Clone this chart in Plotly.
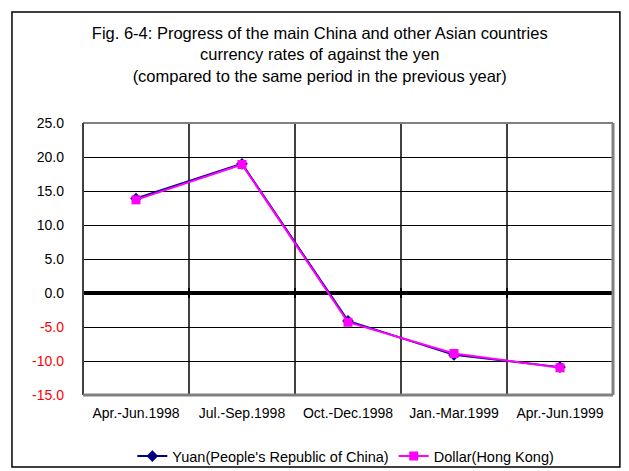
import plotly.graph_objects as go

# 데이터
periods = ["Apr.-Jun.1998", "Jul.-Sep.1998", "Oct.-Dec.1998", "Jan.-Mar.1999", "Apr.-Jun.1999"]
yuan = [13.9, 19.0, -4.1, -9.1, -10.9]
dollar = [13.7, 18.9, -4.3, -8.9, -11.0]
y_ticks = [-15, -10, -5, 0, 5, 10, 15, 20, 25]

x_pos = list(range(len(periods)))


def tick_label(v):
    s = f"{v:.1f}"
    if v < 0:
        return f"<span style='color:#ff0000'>{s}</span>"
    return s


fig = go.Figure()

fig.add_trace(go.Scatter(
    x=x_pos, y=yuan, mode="lines+markers",
    name="Yuan(People's Republic of China)",
    line=dict(color="#000080", width=2),
    marker=dict(symbol="diamond", size=9, color="#000080"),
))
fig.add_trace(go.Scatter(
    x=x_pos, y=dollar, mode="lines+markers",
    name="Dollar(Hong Kong)",
    line=dict(color="#ff00ff", width=2),
    marker=dict(symbol="square", size=9, color="#ff00ff"),
))

# 0 축 위의 눈금(카테고리 경계)
fig.add_trace(go.Scatter(
    x=[-0.5, 0.5, 1.5, 2.5, 3.5, 4.5], y=[0] * 6, mode="markers",
    marker=dict(symbol="line-ns", size=7, line=dict(width=2, color="black")),
    showlegend=False, hoverinfo="skip",
))

# 테두리 (페이지 body 여백 8px 고려)
fig.add_shape(type="rect", xref="paper", yref="paper",
              x0=-0.134, x1=1.013, y0=-0.265, y1=1.408,
              line=dict(color="black", width=1.5), layer="below")
fig.add_shape(type="line", xref="paper", yref="paper", x0=0, x1=1, y0=1, y1=1,
              line=dict(color="#808080", width=2))
fig.add_shape(type="line", xref="paper", yref="paper", x0=0, x1=0, y0=0, y1=1,
              line=dict(color="#404040", width=2))
fig.add_shape(type="line", xref="paper", yref="paper", x0=1, x1=1, y0=0, y1=1,
              line=dict(color="#808080", width=3))
fig.add_shape(type="line", xref="paper", yref="paper", x0=0, x1=1, y0=0, y1=0,
              line=dict(color="#808080", width=3))

fig.update_layout(
    width=621, height=463,
    margin=dict(l=75, r=16, t=115, b=76, autoexpand=False),
    paper_bgcolor="white", plot_bgcolor="white",
    font=dict(family="Liberation Sans, Arial, sans-serif", size=14, color="black"),
    title=dict(
        text="Fig. 6-4: Progress of the main China and other Asian countries<br>"
             "currency rates of against the yen<br>"
             "(compared to the same period in the previous year)",
        x=0.502, xref="container", xanchor="center",
        y=0.933, yref="container", yanchor="top",
        font=dict(size=16.5, color="black"),
    ),
    xaxis=dict(
        range=[-0.5, 4.5], tickvals=x_pos, ticktext=periods,
        showgrid=False, zeroline=False, showline=False, ticks="",
        ticklabelstandoff=8, tickfont=dict(size=14), automargin=False,
        minor=dict(tick0=-0.5, dtick=1, showgrid=True, gridcolor="#404040", gridwidth=1.5),
    ),
    yaxis=dict(
        range=[-15, 25], tickvals=y_ticks, ticktext=[tick_label(v) for v in y_ticks],
        showgrid=True, gridcolor="black", gridwidth=1,
        zeroline=True, zerolinecolor="black", zerolinewidth=4,
        showline=False, ticks="", ticklabelstandoff=18, tickfont=dict(size=14),
        automargin=False,
    ),
    legend=dict(
        orientation="h", x=0.544, xanchor="center", xref="container",
        y=0.032, yanchor="middle", yref="container",
        font=dict(size=14.5), itemwidth=30, bgcolor="rgba(0,0,0,0)",
    ),
    showlegend=True,
)

fig.write_html("out.html")
